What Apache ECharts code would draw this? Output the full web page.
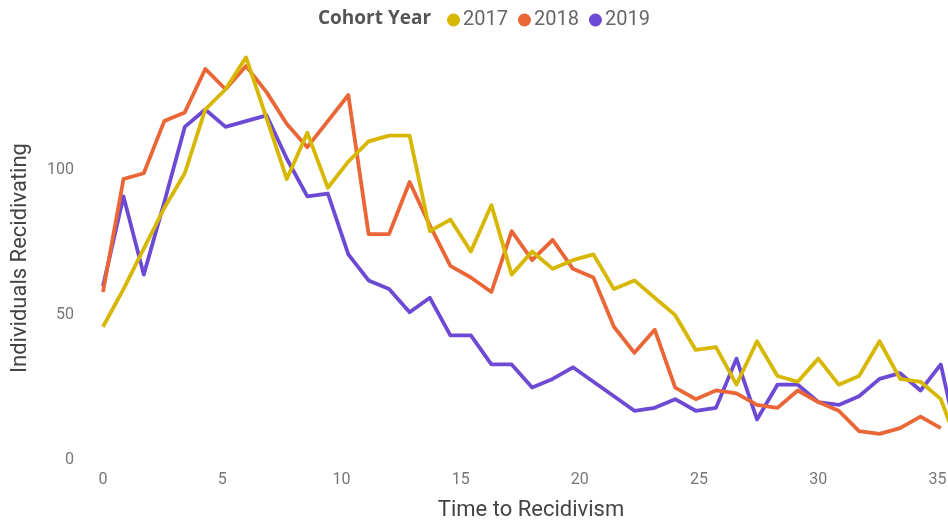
<!DOCTYPE html>
<html>
<head>
<meta charset="utf-8">
<script src="https://cdn.jsdelivr.net/npm/echarts@6/dist/echarts.min.js"></script>
<style>
  html, body { margin: 0; padding: 0; background: #fff; }
  #chart { width: 948px; height: 523px; }
</style>
</head>
<body>
<div id="chart"></div>
<script>
// time to recidivism (x of each point)
const timeToRecidivism = [0, 0.86, 1.71, 2.57, 3.43, 4.29, 5.14, 6, 6.86, 7.71, 8.57, 9.43, 10.29, 11.14,
  12, 12.86, 13.71, 14.57, 15.43, 16.29, 17.14, 18, 18.86, 19.71, 20.57, 21.43, 22.29, 23.14, 24, 24.86,
  25.71, 26.57, 27.43, 28.29, 29.14, 30, 30.86, 31.71, 32.57, 33.43, 34.29, 35.14, 36]

const cohorts = ['2017', '2018', '2019']

const values2017 = [46, 59, 73, 87, 99, 121, 128, 139, 118, 97, 113, 94, 103, 110, 112, 112, 79, 83, 72, 88,
  64, 72, 66, 69, 71, 59, 62, 56, 50, 38, 39, 26, 41, 29, 27, 35, 26, 29, 41, 28, 27, 21, 2]
const values2018 = [58, 97, 99, 117, 120, 135, 128, 136, 127, 116, 108, 117, 126, 78, 78, 96, 81, 67, 63, 58,
  79, 69, 76, 66, 63, 46, 37, 45, 25, 21, 24, 23, 19, 18, 24, 20, 17, 10, 9, 11, 15, 11, null]
const values2019 = [60, 91, 64, 89, 115, 121, 115, 117, 119, 104, 91, 92, 71, 62, 59, 51, 56, 43, 43, 33,
  33, 25, 28, 32, 27, 22, 17, 18, 21, 17, 18, 35, 14, 26, 26, 20, 19, 22, 28, 30, 24, 33, 1]

const yTicks = [0, 50, 100]

const COLORS = ['#D7B700', '#EA6637', '#6C4AD3']
const FONTFAMILY = 'Roboto, "Noto Sans", sans-serif'

const toPoints = (vals) => vals.map((v, i) => [timeToRecidivism[i], v])

const chart = echarts.init(document.getElementById('chart'))

chart.setOption({
  backgroundColor: '#fff',
  color: COLORS,
  textStyle: { fontFamily: FONTFAMILY },
  animation: false,
  title: {
    text: 'Cohort Year',
    left: 318,
    top: 9,
    padding: 0,
    textStyle: { fontSize: 19, fontWeight: 'bold', color: '#555', fontFamily: '"Open Sans", sans-serif' }
  },
  legend: {
    data: cohorts,
    left: 447,
    top: 10,
    padding: 0,
    icon: 'circle',
    itemWidth: 13,
    itemHeight: 13,
    itemGap: 10,
    textStyle: { fontSize: 20, color: '#666', padding: [0, 0, 0, -2], fontFamily: FONTFAMILY }
  },
  grid: { left: 103, right: 1, top: 40, bottom: 63, outerBoundsMode: 'none' },
  xAxis: {
    type: 'value',
    min: 0,
    max: 35.4,
    interval: 5,
    name: 'Time to Recidivism',
    nameLocation: 'middle',
    nameGap: 39,
    nameTextStyle: { fontSize: 22, color: '#444', padding: [0, 0, 0, 12] },
    axisLine: { show: false },
    axisTick: { show: false },
    splitLine: { show: false },
    axisLabel: { fontSize: 16, color: '#777', margin: 12, showMaxLabel: false }
  },
  yAxis: {
    type: 'value',
    min: 0,
    max: 145,
    interval: 50,
    name: 'Individuals Recidivating',
    nameLocation: 'middle',
    nameGap: 72,
    nameTextStyle: { fontSize: 22, color: '#444', padding: [0, 16, 0, 0] },
    axisLine: { show: false },
    axisTick: { show: false },
    splitLine: { show: false },
    axisLabel: {
      fontSize: 16,
      color: '#777',
      margin: 29,
      showMaxLabel: false,
      formatter: (v) => (yTicks.includes(v) ? String(v) : '')
    }
  },
  series: [values2017, values2018, values2019].map((vals, i) => ({
    name: cohorts[i],
    type: 'line',
    data: toPoints(vals),
    showSymbol: false,
    symbol: 'none',
    connectNulls: false,
    lineStyle: { width: 3.8, join: 'round' },
    z: 3 - i
  }))
})
</script>
</body>
</html>
